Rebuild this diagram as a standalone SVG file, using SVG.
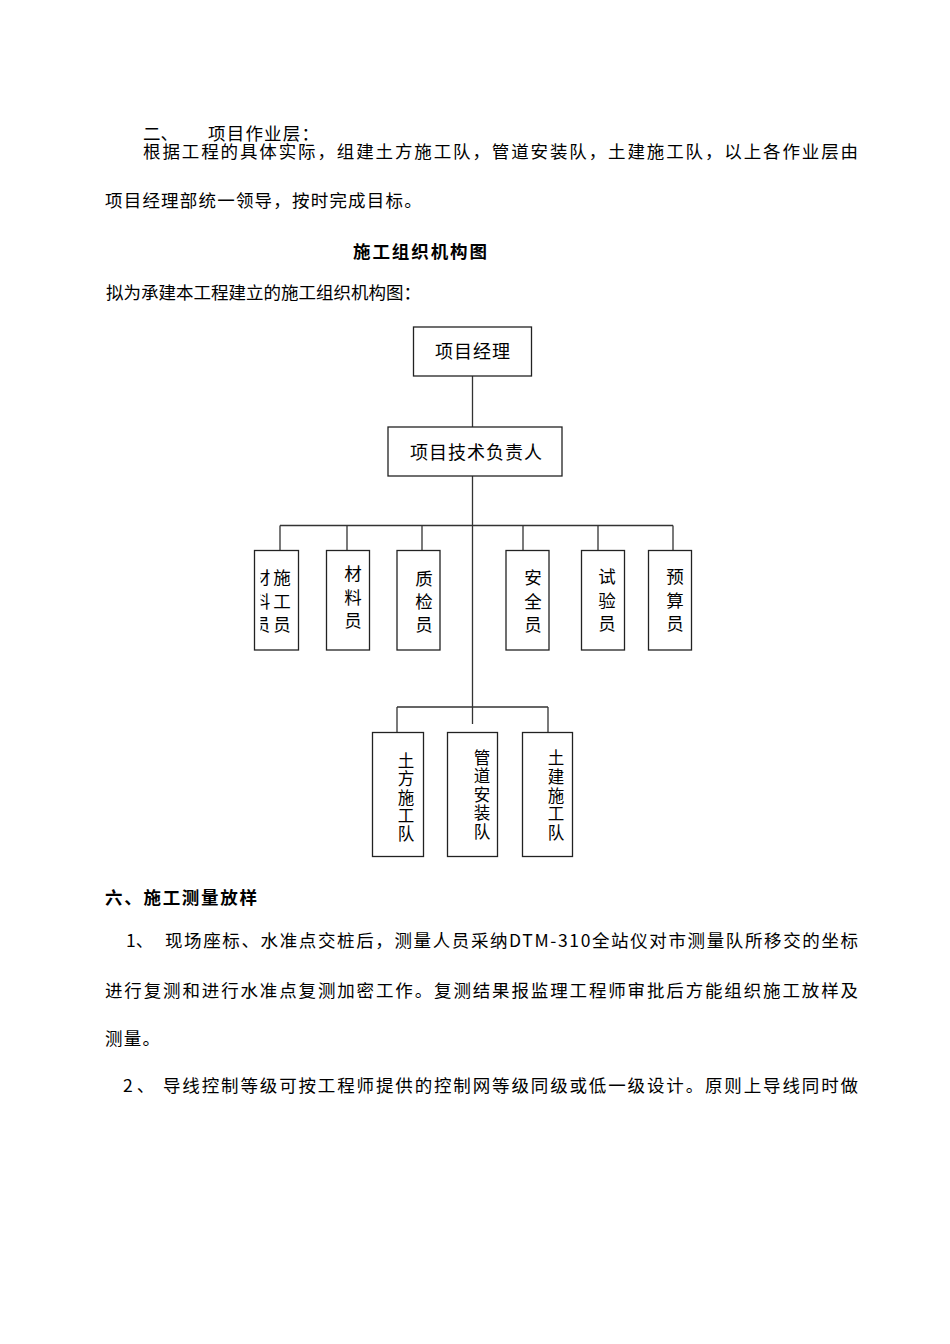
<svg xmlns="http://www.w3.org/2000/svg" width="950" height="1344" viewBox="0 0 950 1344">
<style>
.t{font-family:"Noto Sans CJK SC","Liberation Serif",serif;font-size:17.5px;fill:#000}
.b{font-weight:bold}
.n{font-family:"Noto Sans CJK SC","Liberation Serif",serif;font-size:18px;fill:#000}
.v{font-family:"Noto Sans CJK SC","Liberation Serif",serif;font-size:17.5px;fill:#000;text-anchor:middle}
.w{font-family:"Noto Sans CJK SC","Liberation Serif",serif;font-size:16.5px;fill:#000;text-anchor:middle}
.box{fill:#fff;stroke:#222;stroke-width:1.3}
.ln{stroke:#333;stroke-width:1.3;fill:none}
</style>
<defs>
<clipPath id="c1"><rect x="260.5" y="551" width="38" height="99"/></clipPath>
</defs>
<rect width="950" height="1344" fill="#fff"/>
<g id="text-top">
<text class="t" x="143" y="139.5">二、</text>
<text class="t" x="208" y="139.5" letter-spacing="1.2">项目作业层：</text>
<text class="t" x="143" y="157.5" textLength="715" lengthAdjust="spacing">根据工程的具体实际，组建土方施工队，管道安装队，土建施工队，以上各作业层由</text>
<text class="t" x="105" y="207" letter-spacing="1.2">项目经理部统一领导，按时完成目标。</text>
<text class="t b" x="353" y="258" textLength="134" lengthAdjust="spacing">施工组织机构图</text>
<text class="t" x="106" y="298.5">拟为承建本工程建立的施工组织机构图：</text>
</g>
<g id="connectors">
<path class="ln" d="M472.5 376V427M472.5 476V724M280 525.5H673M280 525.5V550.5M347 525.5V550.5M422 525.5V550.5M523 525.5V550.5M598 525.5V550.5M673 525.5V550.5M397 707H548M397 707V732.5M548 707V732.5"/>
</g>
<g id="n-manager">
<rect class="box" x="413.5" y="327" width="118" height="49"/>
<text class="n" x="435" y="358" letter-spacing="1">项目经理</text>
</g>
<g id="n-tech">
<rect class="box" x="388" y="427" width="174" height="49"/>
<text class="n" x="410" y="458.5" letter-spacing="1">项目技术负责人</text>
</g>
<g id="n-shigong">
<rect class="box" x="254.5" y="550.5" width="44" height="99.5"/>
<g clip-path="url(#c1)">
<text class="v" x="261.5" y="584">材</text>
<text class="v" x="261.5" y="608">料</text>
<text class="v" x="261.5" y="631">员</text>
</g>
<text class="v" x="282" y="584">施</text>
<text class="v" x="282" y="608">工</text>
<text class="v" x="282" y="631">员</text>
</g>
<g id="n-cailiao">
<rect class="box" x="326.5" y="550.5" width="43" height="99.5"/>
<text class="v" x="353" y="580">材</text>
<text class="v" x="353" y="603.5">料</text>
<text class="v" x="353" y="626.5">员</text>
</g>
<g id="n-zhijian">
<rect class="box" x="397" y="550.5" width="43" height="99.5"/>
<text class="v" x="424" y="585">质</text>
<text class="v" x="424" y="608">检</text>
<text class="v" x="424" y="631">员</text>
</g>
<g id="n-anquan">
<rect class="box" x="506" y="550.5" width="43" height="99.5"/>
<text class="v" x="533" y="584">安</text>
<text class="v" x="533" y="608">全</text>
<text class="v" x="533" y="631">员</text>
</g>
<g id="n-shiyan">
<rect class="box" x="581.5" y="550.5" width="43" height="99.5"/>
<text class="v" x="607" y="583">试</text>
<text class="v" x="607" y="607">验</text>
<text class="v" x="607" y="630">员</text>
</g>
<g id="n-yusuan">
<rect class="box" x="648.5" y="550.5" width="43" height="99.5"/>
<text class="v" x="675" y="583">预</text>
<text class="v" x="675" y="607">算</text>
<text class="v" x="675" y="630">员</text>
</g>
<g id="n-tufang">
<rect class="box" x="372.5" y="732.5" width="51" height="124"/>
<text class="w" x="406" y="766.5">土</text>
<text class="w" x="406" y="785">方</text>
<text class="w" x="406" y="803.5">施</text>
<text class="w" x="406" y="821.5">工</text>
<text class="w" x="406" y="840">队</text>
</g>
<g id="n-guandao">
<rect class="box" x="447.5" y="732.5" width="50" height="124"/>
<text class="w" x="482" y="763.5">管</text>
<text class="w" x="482" y="782">道</text>
<text class="w" x="482" y="800.5">安</text>
<text class="w" x="482" y="819">装</text>
<text class="w" x="482" y="838">队</text>
</g>
<g id="n-tujian">
<rect class="box" x="522.5" y="732.5" width="50" height="124"/>
<text class="w" x="556" y="764">土</text>
<text class="w" x="556" y="783">建</text>
<text class="w" x="556" y="801.5">施</text>
<text class="w" x="556" y="820">工</text>
<text class="w" x="556" y="838.5">队</text>
</g>
<g id="text-bottom">
<text class="t b" x="105" y="903.5" textLength="152" lengthAdjust="spacing">六、施工测量放样</text>
<text class="t" x="126" y="947">1、</text>
<text class="t" x="165" y="947" textLength="693" lengthAdjust="spacing">现场座标、水准点交桩后，测量人员采纳DTM-310全站仪对市测量队所移交的坐标</text>
<text class="t" x="105" y="996.5" textLength="753" lengthAdjust="spacing">进行复测和进行水准点复测加密工作。复测结果报监理工程师审批后方能组织施工放样及</text>
<text class="t" x="105" y="1045" letter-spacing="1.2">测量。</text>
<text class="t" x="123" y="1092">2 、</text>
<text class="t" x="163" y="1092" textLength="695" lengthAdjust="spacing">导线控制等级可按工程师提供的控制网等级同级或低一级设计。原则上导线同时做</text>
</g>
</svg>
